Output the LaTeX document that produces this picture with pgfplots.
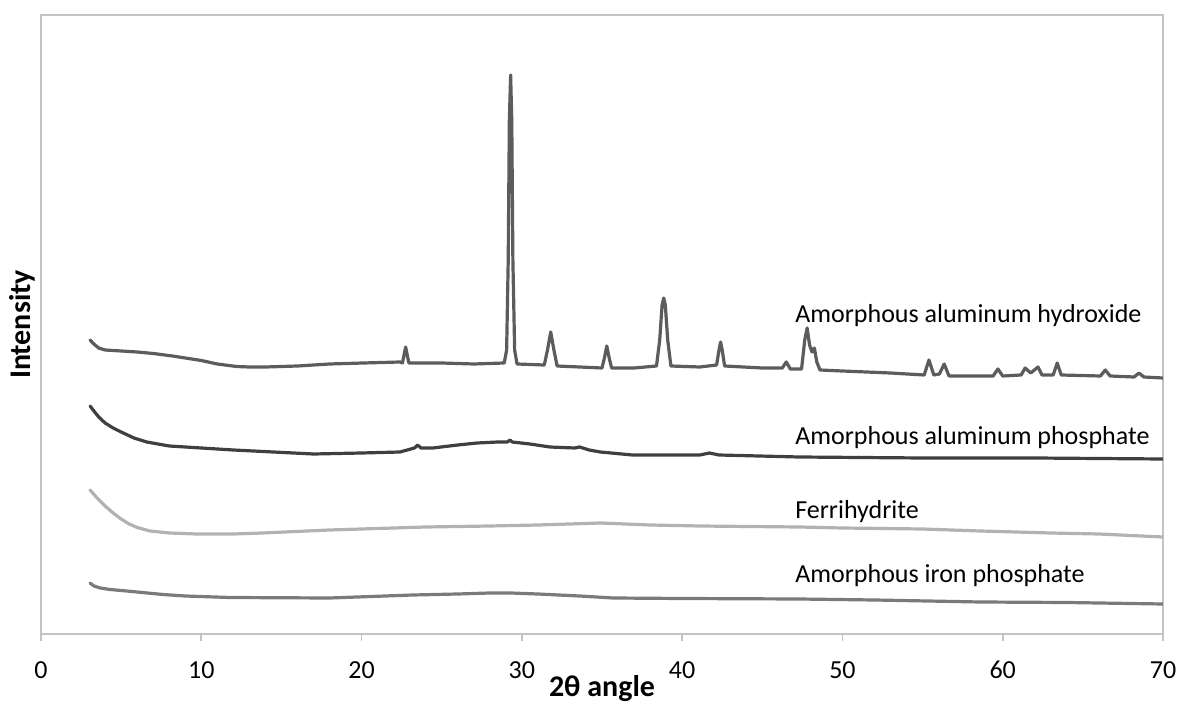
\documentclass[border=0pt]{standalone}
\usepackage{pgfplots}
\pgfplotsset{compat=1.18}
\usepackage{fontspec}
\setmainfont{Carlito}
\definecolor{sone}{HTML}{5C5C5C}
\definecolor{stwo}{HTML}{3F3F3F}
\definecolor{sthree}{HTML}{B2B2B2}
\definecolor{sfour}{HTML}{7A7A7A}
\definecolor{frame}{HTML}{C4C4C4}
\begin{document}
\begin{tikzpicture}
\useasboundingbox (0,0) rectangle (590pt,362pt);
\begin{axis}[
  at={(20.5pt,45pt)}, anchor=south west,
  width=561pt, height=309.5pt, scale only axis,
  xmin=0, xmax=70, ymin=0, ymax=619,
  xtick={0,10,...,70}, ytick=\empty,
  xtick pos=bottom, tick align=outside,
  major tick length=3.5pt,
  tick style={draw=frame, line width=0.8pt},
  axis line style={draw=frame, line width=0.8pt},
  font=\fontsize{13}{15}\selectfont,
  /pgf/number format/assume math mode=true,
  xticklabel style={font=\fontsize{13}{15}\selectfont, anchor=center, yshift=-14.5pt},
  every axis x label/.style={at={(axis description cs:0.5,0)}, anchor=center, yshift=-27.5pt},
  every axis y label/.style={at={(axis description cs:0,0.5)}, anchor=center, xshift=-9.5pt, rotate=90},
  xlabel={\bfseries\fontsize{15}{17}\selectfont 2θ angle},
  ylabel={\bfseries\fontsize{15}{17}\selectfont Intensity},
  every axis plot/.append style={line width=1.6pt, line join=round, line cap=round, no marks},
]
% Amorphous aluminum hydroxide
\addplot[sone] coordinates {
(3.06,294)(3.3,290)(3.6,286)(4.0,284)(5,283)(6,282)(7,280.5)(8.2,278)(9,276)(10,273.5)(11,270)(12.2,267.5)(13,267)(14,267)(16,268)(18,270)(20.1,271)(22.4,272)
(22.55,271)(22.65,279)(22.75,287)(22.85,279)(22.95,271)
(25,271)(27,270)(28.9,271)
(29.05,284)(29.15,374)(29.22,514)(29.3,559)(29.37,514)(29.44,374)(29.55,284)(29.7,270)
(31.4,269)(31.6,284)(31.8,302)(32.0,284)(32.2,268)
(35.0,266)(35.15,276)(35.3,288)(35.45,276)(35.6,266)
(37,266)(38.4,268)(38.6,294)(38.75,329)(38.85,336)(38.95,329)(39.1,294)(39.3,268)
(41.1,267)(42.15,269)(42.3,284)(42.4,292)(42.5,284)(42.65,268)
(45,266)(46.25,266)(46.5,272)(46.75,265)
(47.45,265)(47.65,294)(47.8,306)(47.95,289)(48.1,282)(48.25,286)(48.4,272)(48.6,264)
(50,263)(53,261)(55.1,259)(55.4,274)(55.7,259)(56.05,260)(56.35,270)(56.65,258)
(59.4,258)(59.7,265)(60.0,258)
(61.15,259)(61.4,266)(61.75,261)(62.2,267)(62.45,259)
(63.15,259)(63.4,271)(63.65,259)
(66.1,258)(66.4,264)(66.7,258)
(68.2,257)(68.5,261)(68.8,257)(70,256)
};
% Amorphous aluminum phosphate
\addplot[stwo] coordinates {
(3.06,228)(3.3,223)(3.6,217)(4,211)(4.5,206)(5,202)(5.8,196)(6.6,192)(8,188)(10,186)(12,184)(14.5,182)(17,180)(20,181)(22.4,182)
(23.3,186)(23.5,189)(23.7,186)(24.45,186)(26,189)(27.2,191)(28.5,192)(29.1,192)(29.26,194)(29.4,192)
(30.5,190)(31.75,187)(33.3,186)(33.6,187)(34.2,184)(34.9,182)(36.9,179)(41.1,179)(41.7,181)(42.3,179)
(47.3,177)(55,176)(62,176)(70,175)
};
% Ferrihydrite
\addplot[sthree] coordinates {
(3.06,144)(3.5,136)(4,128)(4.5,121)(5,115)(5.5,110)(6,106.5)(6.8,103)(8,101)(9.7,100)(12,100)(13.8,101)(18,104)(24,107)(28,108)
(31,109)(34.9,111)(38,109)(41.1,108)(47.3,107)(50,106)(55,105)(58.6,103)(63,101)(66,100)(70,97)
};
% Amorphous iron phosphate
\addplot[sfour] coordinates {
(3.06,51)(3.3,48)(3.7,46)(4.3,44.5)(5,43.5)(6,42)(7.6,39.5)(9,38)(11.8,36.5)(18,36)(23.2,39)(26,40)(28,41)(29.3,41)(31,40)(33.6,38)
(35.7,36)(40,35.5)(47.3,35)(52,34)(58.6,32)(64,31.5)(70,30)
};
\node[anchor=base west, inner sep=0pt] at (axis cs:47.04,311) {Amorphous aluminum hydroxide};
\node[anchor=base west, inner sep=0pt] at (axis cs:47.04,189) {Amorphous aluminum phosphate};
\node[anchor=base west, inner sep=0pt] at (axis cs:47.04,115.7) {Ferrihydrite};
\node[anchor=base west, inner sep=0pt] at (axis cs:47.04,51.7) {Amorphous iron phosphate};
\end{axis}
\end{tikzpicture}
\end{document}
